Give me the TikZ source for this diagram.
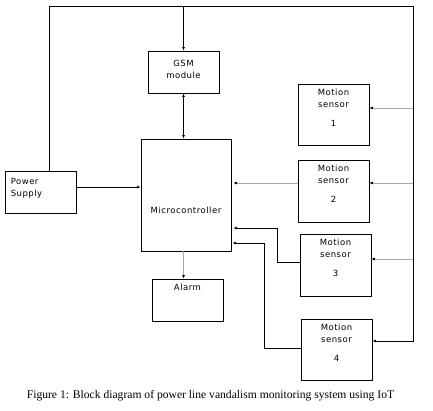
\documentclass[tikz,border=0pt]{standalone}
\usepackage{fontspec}
\setmainfont{Liberation Serif}
\newfontfamily\boxfont[LetterSpace=6]{DejaVu Sans}
\usetikzlibrary{arrows.meta,positioning}

\tikzset{
  block/.style={draw, line width=0.9pt, inner sep=0pt},
  blocktext/.style={inner sep=0pt, font=\boxfont\fontsize{8.5}{12}\selectfont, align=center},
  wire/.style={line width=0.9pt},
  faint/.style={draw=gray!70, line width=0.6pt},
  tip/.style={-{Latex[length=3.5pt,width=3pt,color=black]}},
  twotip/.style={{Latex[length=3.5pt,width=3pt]}-{Latex[length=3.5pt,width=3pt]}},
}

\begin{document}
\begin{tikzpicture}[x=1pt,y=1pt]
\useasboundingbox (0,0) rectangle (433,411);

% blocks
\node[block, minimum width=71pt, minimum height=42pt] (gsm) at (183.5,339) {};
\node[blocktext, below=9pt of gsm.north] (gsmtext) {GSM\\module};

\node[block, minimum width=71pt, minimum height=42pt] (ps) at (40.5,219) {};
\node[blocktext, align=left, anchor=north west] (pstext) at ([xshift=6pt,yshift=-8pt]ps.north west) {Power\\Supply};

\node[block, minimum width=90pt, minimum height=112pt] (mc) at (186,216) {};
\node[blocktext] (mctext) at ([yshift=-15pt]mc.center) {Microcontroller};

\node[block, minimum width=71pt, minimum height=42pt] (alarm) at (187.5,111) {};
\node[blocktext, below=5pt of alarm.north] (alarmtext) {Alarm};

\node[block, minimum width=71pt, minimum height=61pt] (s1) at (333.5,296.5) {};
\node[blocktext, below=5pt of s1.north] (s1text) {Motion\\sensor\\[7pt]1};

\node[block, minimum width=71pt, minimum height=62pt] (s2) at (333.5,220) {};
\node[blocktext, below=5pt of s2.north] (s2text) {Motion\\sensor\\[7pt]2};

\node[block, minimum width=71pt, minimum height=62pt] (s3) at (335.5,146) {};
\node[blocktext, below=5pt of s3.north] (s3text) {Motion\\sensor\\[7pt]3};

\node[block, minimum width=71pt, minimum height=61pt] (s4) at (336.5,61.5) {};
\node[blocktext, below=5pt of s4.north] (s4text) {Motion\\sensor\\[7pt]4};

% supply loop
\coordinate (tl) at (49,405);
\coordinate (tr) at (413,405);
\draw[wire,tip] (tl |- ps.north) -- (tl) -- (tr) |- ([yshift=8.5pt]s4.east);
\draw[wire,tip] (gsm.north |- tl) -- (gsm.north);

\coordinate (in1) at ([yshift=6.5pt]s1.east);
\coordinate (in2) at ([yshift=8pt]s2.east);
\coordinate (in3) at ([yshift=6pt]s3.east);
\draw[faint,tip] (in1 -| tr) -- (in1);
\draw[faint,tip] (in2 -| tr) -- (in2);
\draw[faint,tip] (in3 -| tr) -- (in3);

% links to the microcontroller
\draw[wire,twotip] (gsm.south) -- (gsm.south |- mc.north);
\draw[wire,tip] ([yshift=5pt]ps.east) -- ([yshift=8pt]mc.west);
\draw[faint,tip,shorten >=2pt] (in2 -| s2.west) -- (in2 -| mc.east);
\draw[wire,tip,shorten >=2pt] ([yshift=3pt]s3.west) -- ++(-22,0) |- ([yshift=-33pt]mc.east);
\draw[wire,tip,shorten >=1pt] ([yshift=1.5pt]s4.west) -- ++(-36,0) |- ([yshift=-48pt]mc.east);
\draw[faint,tip] (gsm.south |- mc.south) -- (gsm.south |- alarm.north);

\node[font=\fontsize{11.6}{13}\selectfont] (caption) at (210.5,15) {Figure 1: Block diagram of power line vandalism monitoring system using IoT};
\end{tikzpicture}
\end{document}
